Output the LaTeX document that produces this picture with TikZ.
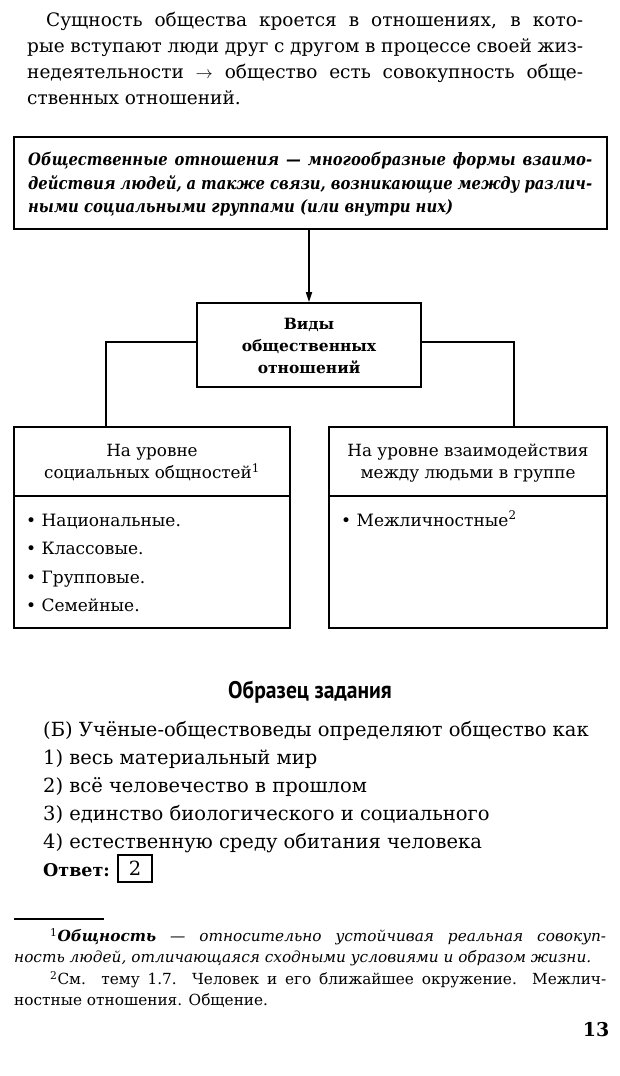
\documentclass[tikz,border=0pt]{standalone}
\usepackage{fontspec}
\setmainfont{DejaVu Serif}
\newfontfamily\headfont[FakeStretch=0.9]{PT Sans}
\newfontfamily\deffont[FakeStretch=0.87]{DejaVu Serif}
\usetikzlibrary{arrows.meta}
\tikzset{
  box/.style={draw, line width=1.6pt, inner sep=0pt},
  conn/.style={line width=1.6pt},
  para/.style={inner sep=0pt, anchor=north west, align=justify},
  txt/.style={inner sep=0pt},
}
\begin{document}
\begin{tikzpicture}[x=1pt,y=-1pt]
\useasboundingbox[fill=white] (0,0) rectangle (620,1076);
% top paragraph
\node[para, text width=556pt, font=\fontsize{18.5}{26}\selectfont] (intro) at (27,12)
 {\hspace*{19pt}Сущность общества кроется в отношениях, в кото-\linebreak рые вступают люди друг с другом в процессе своей жиз-\linebreak недеятельности $\rightarrow$ общество есть совокупность обще-\linebreak ственных отношений.};
% definition box
\node[box, minimum width=593pt, minimum height=92pt] (def) at (310.5,183) {};
\node[para, text width=564pt, font=\deffont\fontsize{17}{23.5}\selectfont\bfseries\itshape] (deftxt) at (28,152)
 {Общественные отношения — многообразные формы взаимо-\linebreak действия людей, а также связи, возникающие между различ-\linebreak ными социальными группами (или внутри них)};
% kinds box
\node[box, minimum width=224pt, minimum height=84pt] (kinds) at (309,345) {};
\node[txt, align=center, font=\fontsize{15.5}{22}\selectfont\bfseries] (kindstxt) at (309,346) {Виды\\общественных\\отношений};
% lower boxes
\node[box, minimum width=276pt, minimum height=201pt] (lbox) at (152,527.5) {};
\node[box, minimum width=278pt, minimum height=201pt] (rbox) at (468,527.5) {};
\coordinate (divy) at (0,496);
\draw[conn] (lbox.west |- divy) -- (lbox.east |- divy);
\draw[conn] (rbox.west |- divy) -- (rbox.east |- divy);
\node[txt, align=center, font=\fontsize{16.8}{22}\selectfont] (lhead) at (152,463) {На уровне\\социальных общностей\textsuperscript{1}};
\node[txt, align=center, font=\fontsize{16.8}{22}\selectfont] (rhead) at (468,463) {На уровне взаимодействия\\между людьми в группе};
\tikzset{item/.style={inner sep=0pt, anchor=base west, font=\fontsize{17}{20}\selectfont}}
\node[item] (i1) at (26,526) {• Национальные.};
\node[item] (i2) at (26,554.5) {• Классовые.};
\node[item] (i3) at (26,583) {• Групповые.};
\node[item] (i4) at (26,611) {• Семейные.};
\node[item] (i5) at (341,526) {• Межличностные\textsuperscript{2}};
% connectors
\draw[conn, -{Triangle[length=10pt,width=6pt]}] (def.south -| kinds.north) -- (kinds.north);
\coordinate (lc) at (106,342);
\coordinate (rc) at (514,342);
\draw[conn] (kinds.west |- lc) -- (lc) -- (lc |- lbox.north);
\draw[conn] (kinds.east |- rc) -- (rc) -- (rc |- rbox.north);
% sample task
\node[txt, font=\fontsize{24}{26}\selectfont\headfont\bfseries] (sample) at (310,692) {Образец задания};
\tikzset{qline/.style={inner sep=0pt, anchor=base west, font=\fontsize{19.5}{22}\selectfont}}
\node[qline] (q0) at (43,736) {(Б) Учёные-обществоведы определяют общество как};
\node[qline] (q1) at (43,764) {1) весь материальный мир};
\node[qline] (q2) at (43,792) {2) всё человечество в прошлом};
\node[qline] (q3) at (43,820) {3) единство биологического и социального};
\node[qline] (q4) at (43,848) {4) естественную среду обитания человека};
\node[qline, font=\fontsize{17.5}{22}\selectfont\bfseries] (ans) at (43,876) {Ответ:};
\node[draw, line width=1.3pt, minimum width=34pt, minimum height=27pt, inner sep=0pt, font=\fontsize{19.5}{22}\selectfont] (ansbox) at (135,868.5) {2};
% footnotes
\coordinate (fr1) at (14,919);
\coordinate (fr2) at (104,919);
\draw[line width=1.2pt] (fr1) -- (fr2);
\node[para, text width=592pt, font=\fontsize{15.3}{21.5}\selectfont] (fn1) at (14,928)
 {\hspace*{36pt}\textsuperscript{1}\textbf{\textit{Общность}} \textit{— относительно устойчивая реальная совокуп-\linebreak ность людей, отличающаяся сходными условиями и образом жизни.}\par
 \hspace*{36pt}\textsuperscript{2}См. тему 1.7. Человек и его ближайшее окружение. Межлич-\linebreak ностные отношения. Общение.};
\node[txt, font=\fontsize{19}{20}\selectfont\bfseries] (pageno) at (596,1030) {13};
\end{tikzpicture}
\end{document}
